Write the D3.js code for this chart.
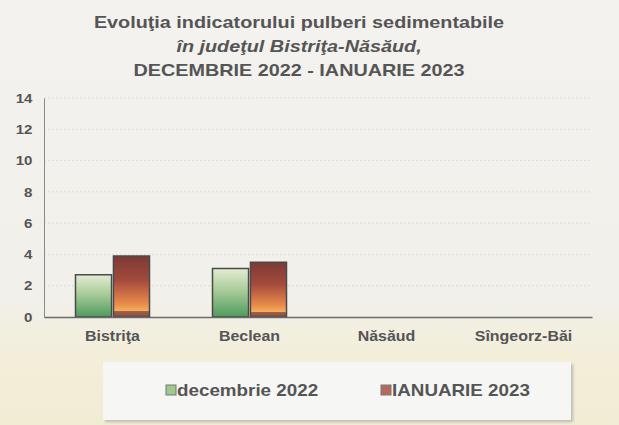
<!DOCTYPE html>
<html>
<head>
<meta charset="utf-8">
<title>Pulberi sedimentabile</title>
<script src="https://d3js.org/d3.v7.min.js"></script>
<style>
  * { margin: 0; padding: 0; }
  body { background: #f2f1ed; }
  svg { display: block; font-family: "Liberation Sans", Arial, sans-serif; }
</style>
</head>
<body>
<div id="chart"></div>
<script>
// date
const categories = ["Bistriţa", "Beclean", "Năsăud", "Sîngeorz-Băi"];
const seriesNames = ["decembrie 2022", "IANUARIE 2023"];
const dec2022 = [2.7, 3.1, null, null];
const ian2023 = [3.9, 3.5, null, null];
const yTicks = [0, 2, 4, 6, 8, 10, 12, 14];
const titleLines = ["Evoluţia indicatorului pulberi sedimentabile", "în judeţul Bistriţa-Năsăud,", "DECEMBRIE 2022 - IANUARIE 2023"];

const W = 619, H = 425;
const margin = { top: 98, right: 27, bottom: 108, left: 44 };
const SX = 1.16; // textul din original e putin latit

const svg = d3.select("#chart").append("svg")
  .attr("width", W).attr("height", H);

const defs = svg.append("defs");

// fundal
const bg = defs.append("linearGradient").attr("id", "bg").attr("x1", 0).attr("y1", 0).attr("x2", 0).attr("y2", 1);
bg.append("stop").attr("offset", "0%").attr("stop-color", "#f3f2ef");
bg.append("stop").attr("offset", "70%").attr("stop-color", "#f1f0ea");
bg.append("stop").attr("offset", "85%").attr("stop-color", "#f3eed8");
bg.append("stop").attr("offset", "100%").attr("stop-color", "#f1ecd4");

const gGreen = defs.append("linearGradient").attr("id", "gGreen").attr("x1", 0).attr("y1", 0).attr("x2", 0).attr("y2", 1);
gGreen.append("stop").attr("offset", "0%").attr("stop-color", "#e4ecd2");
gGreen.append("stop").attr("offset", "45%").attr("stop-color", "#a9cc9a");
gGreen.append("stop").attr("offset", "100%").attr("stop-color", "#4f9a5e");

const gRed = defs.append("linearGradient").attr("id", "gRed").attr("x1", 0).attr("y1", 0).attr("x2", 0).attr("y2", 1);
gRed.append("stop").attr("offset", "0%").attr("stop-color", "#7c3a34");
gRed.append("stop").attr("offset", "40%").attr("stop-color", "#a44a3c");
gRed.append("stop").attr("offset", "78%").attr("stop-color", "#e88a4a");
gRed.append("stop").attr("offset", "90%").attr("stop-color", "#f2b05a");
gRed.append("stop").attr("offset", "91%").attr("stop-color", "#a0604a");
gRed.append("stop").attr("offset", "100%").attr("stop-color", "#8a4a3c");

const shadow = defs.append("filter").attr("id", "shadow").attr("x", "-5%").attr("y", "-10%").attr("width", "115%").attr("height", "130%");
shadow.append("feDropShadow").attr("dx", 2).attr("dy", 2).attr("stdDeviation", 1.5).attr("flood-color", "#999").attr("flood-opacity", 0.6);

svg.append("rect").attr("width", W).attr("height", H).attr("fill", "url(#bg)");

// titlu
const title = svg.append("text")
  .attr("transform", `translate(299,0) scale(1.2,1)`)
  .attr("text-anchor", "middle")
  .attr("fill", "#555").attr("font-weight", "bold").attr("font-size", 16.5);
titleLines.forEach((t, i) => {
  title.append("tspan").attr("x", 0).attr("y", 28 + i * 24)
    .attr("font-style", i === 1 ? "italic" : null).text(t);
});

const x0 = d3.scaleBand().domain(categories)
  .range([margin.left, W - margin.right]).padding(0);
const x1 = d3.scaleBand().domain(seriesNames)
  .range([0, 74]).paddingInner(0.05);
const y = d3.scaleLinear().domain([0, 14]).range([H - margin.bottom, margin.top]);

// grila
svg.append("g").selectAll("line").data(yTicks.filter(d => d > 0)).join("line")
  .attr("x1", margin.left).attr("x2", W - margin.right)
  .attr("y1", d => y(d)).attr("y2", d => y(d))
  .attr("stroke", "#dcdcda").attr("stroke-width", 1).attr("stroke-dasharray", "2,2");

// axa y
const yAxis = svg.append("g").attr("transform", `translate(${margin.left},0)`)
  .call(d3.axisLeft(y).tickValues(yTicks).tickSize(0).tickPadding(10));
yAxis.select(".domain").attr("stroke", "#8a8a8a");
yAxis.selectAll("text").attr("fill", "#555").attr("font-size", 13).attr("font-weight", "bold")
  .attr("font-family", "Liberation Sans, Arial, sans-serif")
  .attr("transform", `scale(${SX},1)`);

// bare
const series = [
  { name: seriesNames[0], values: dec2022, fill: "url(#gGreen)" },
  { name: seriesNames[1], values: ian2023, fill: "url(#gRed)" }
];
const groups = svg.append("g").selectAll("g").data(categories).join("g")
  .attr("transform", d => `translate(${x0(d) + x0.bandwidth() / 2 - 37},0)`);
groups.selectAll("rect")
  .data((c, i) => series.filter(s => s.values[i] != null).map(s => ({ s, v: s.values[i] })))
  .join("rect")
  .attr("x", d => x1(d.s.name))
  .attr("y", d => y(d.v))
  .attr("width", x1.bandwidth())
  .attr("height", d => y(0) - y(d.v))
  .attr("fill", d => d.s.fill)
  .attr("stroke", "#4a4a4a").attr("stroke-width", 1.5);

// axa x
const xAxis = svg.append("g").attr("transform", `translate(0,${y(0)})`)
  .call(d3.axisBottom(x0).tickSize(0).tickPadding(14));
xAxis.select(".domain").attr("stroke", "#6a6a6a").attr("stroke-width", 1.5);
xAxis.selectAll("text").attr("fill", "#555").attr("font-size", 14.5).attr("font-weight", "bold")
  .attr("font-family", "Liberation Sans, Arial, sans-serif")
  .attr("transform", `scale(${SX - 0.06},1)`);

// legenda
const leg = svg.append("g");
leg.append("rect").attr("x", 103).attr("y", 362).attr("width", 468).attr("height", 58)
  .attr("fill", "#f6f6f4").attr("filter", "url(#shadow)");
const legX = [166, 381];
series.forEach((s, i) => {
  leg.append("rect").attr("x", legX[i]).attr("y", 385).attr("width", 10).attr("height", 10)
    .attr("fill", i === 0 ? "#9cc98e" : "#b36a60").attr("stroke", "#777").attr("stroke-width", 1);
  leg.append("text").attr("transform", `translate(${legX[i] + 11},396) scale(${SX - 0.02},1)`)
    .attr("fill", "#555").attr("font-size", 16.5).attr("font-weight", "bold").text(s.name);
});
</script>
</body>
</html>
